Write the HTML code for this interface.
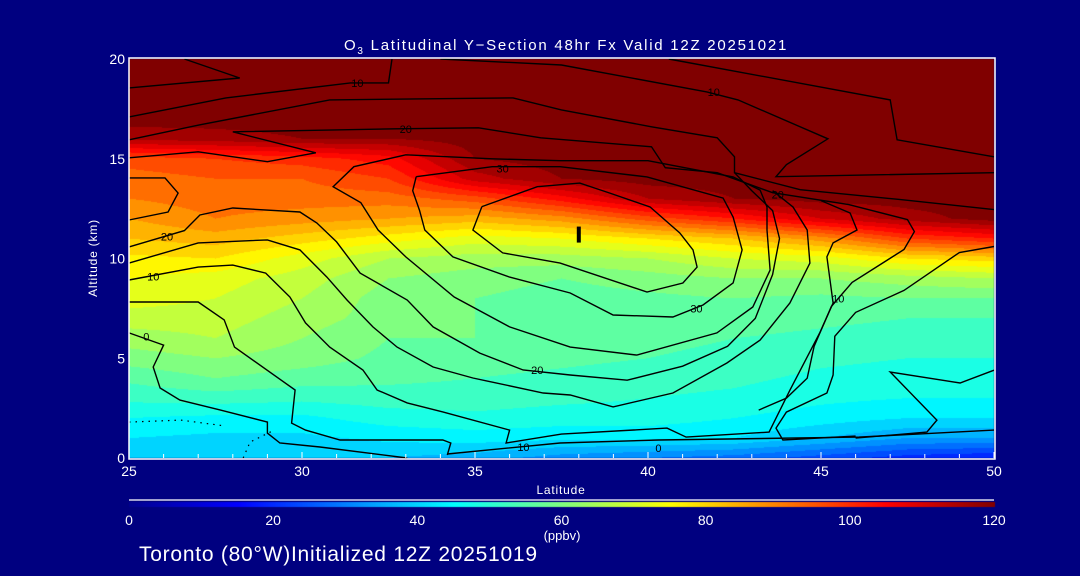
<!DOCTYPE html>
<html><head><meta charset="utf-8"><style>
html,body{margin:0;padding:0;background:#000080;width:1080px;height:576px;overflow:hidden;font-family:"Liberation Sans","DejaVu Sans",sans-serif;}
#wrap{position:relative;width:1080px;height:576px;}
canvas{position:absolute;left:0;top:0;}
svg{position:absolute;left:0;top:0;}
</style></head><body>
<div id="wrap">
<canvas id="field" width="1080" height="576"></canvas>
<svg id="svg" width="1080" height="576" xmlns="http://www.w3.org/2000/svg"></svg>
</div>
<script>
// ---- data ----
const lats = [25,27.5,30,32.5,35,37.5,40,42.5,45,47.5,50];
const alts = [0,1,2,3,4,5,6,7,8,9,10,11,12,13,14,15,16,17,18,19,20];
const col25 = [40,42,46,51,55,60,64,68,72,74,77,82,86,90,92,96,115,120,120,120,120];
const col275 = [39,41,45,52,58,62,66,68,70,72,78,84,90,92,94,98,116,120,120,120,120];
const col30 = [38,41,45,51,56,60,62,64,66,68,72,80,88,92,94,100,118,120,120,120,120];
const col325 = [38,43,48,52,55,57,58,60,60,62,66,76,86,92,98,104,118,120,120,120,120];
const col35 = [36,44,49,52,54,56,58,58,58,60,64,72,84,96,112,118,120,120,120,120,120];
const col375 = [32,43,48,51,53,55,56,56,56,58,64,74,88,104,118,120,120,120,120,120,120];
const col40 = [30,43,48,50,52,54,55,56,57,60,66,78,96,114,120,120,120,120,120,120,120];
const col425 = [28,42,46,49,51,53,54,56,58,62,70,82,102,118,120,120,120,120,120,120,120];
const col45 = [24,38,44,47,49,51,53,55,57,62,72,88,110,120,120,120,120,120,120,120,120];
const col475 = [20,34,42,46,48,50,52,54,58,64,78,98,116,120,120,120,120,120,120,120,120];
const col50 = [18,34,42,46,48,50,52,54,58,66,80,102,120,120,120,120,120,120,120,120,120];
const columns = [col25,col275,col30,col325,col35,col375,col40,col425,col45,col475,col50];
const xTicks = [25,30,35,40,45,50];
const yTicks = [0,5,10,15,20];
const cbTicks = [0,20,40,60,80,100,120];
// contours: [lat, alt] pairs
const contours = [
 [[26.6,20],[28.2,19.05],[25,18.55]],
 [[25,17.1],[27.8,18.05],[31.4,18.8],[32.5,18.8],[32.6,20]],
 [[34.0,20],[37.5,19.7],[41.7,18.35],[42.6,17.95],[45.2,16.0],[44.0,14.7],[43.7,14.1],[50,14.3]],
 [[40.6,20],[47.0,17.95],[47.2,15.95],[50,15.1]],
 [[25,15.95],[27.05,16.7],[30.8,17.95],[36.1,18.05],[37.5,17.45],[40.1,16.6],[42.0,16.05],[42.5,15.1],[42.5,14.3],[44.4,13.45],[47.3,12.95],[50,12.45]],
 [[25,15.05],[27.0,15.35],[29.0,14.85],[30.4,15.3],[28.0,16.35],[32.7,16.5],[35.1,16.55],[36.9,16.05],[40.1,15.6],[40.5,14.55],[42.0,14.3],[43.6,13.3],[45.8,12.7],[47.5,11.95],[47.7,11.35],[47.4,10.45],[45.9,8.8],[45.3,7.6],[44.8,5.6],[44.6,4.0],[44.0,3.0],[43.2,2.4]],
 [[50,10.6],[49.0,10.3],[47.4,8.4],[46.0,7.3],[45.4,6.1],[45.35,4.16],[45.17,3.26],[44.0,2.3],[43.7,1.5],[43.9,0.9],[46,1.1]],
 [[25,14.04],[26.04,14.04],[26.42,13.28],[26.13,12.33],[25,11.93]],
 [[35.2,12.6],[34.94,11.43],[35.8,10.28],[37.46,9.77],[39.97,8.32],[41.01,8.77],[41.42,9.57],[41.3,10.43],[40.92,11.28],[40.06,12.58],[38.9,13.28],[38.03,13.78],[36.8,13.6],[35.2,12.6]],
 [[33.3,14.1],[33.2,13.4],[33.4,12.4],[33.55,11.43],[34.36,10.08],[36.0,9.07],[37.75,8.27],[38.99,7.17],[40.72,7.07],[41.59,7.67],[42.46,8.77],[42.72,10.43],[42.46,12.08],[42.17,13.03],[39.97,14.09],[37.46,14.6],[35.5,14.6],[33.3,14.1]],
 [[37.46,14.9],[35.5,15.0],[33.0,15.2],[31.5,14.6],[30.9,13.6],[31.7,12.8],[32.2,11.43],[33.0,10.08],[34.4,8.07],[36.0,6.57],[37.75,5.56],[39.68,5.16],[41.99,6.27],[43.03,7.57],[43.53,9.42],[43.44,11.43],[43.44,12.58],[43.24,13.43],[42.46,14.09],[40.0,14.9],[37.46,14.9]],
 [[25,10.58],[26.6,11.4],[27.05,12.18],[28.0,12.53],[29.94,12.33],[30.43,11.78],[31.0,10.83],[31.68,9.27],[33.04,7.92],[33.79,6.57],[35.14,5.26],[36.39,4.41],[37.75,4.16],[39.4,3.9],[41.0,4.6],[42.3,5.6],[43.1,7.0],[43.6,9.2],[43.8,11.0],[43.6,12.4],[43.0,13.4],[42.5,14.3]],
 [[25,9.77],[27.0,10.78],[29.0,10.93],[29.94,10.43],[30.72,9.07],[31.3,7.92],[32.05,6.57],[32.75,5.56],[33.79,4.56],[34.94,4.01],[36.97,3.26],[37.75,3.16],[38.99,2.56],[40.72,3.26],[42.28,4.76],[43.24,5.91],[44.1,7.77],[44.68,9.77],[44.6,11.43],[44.19,12.58],[43.6,13.4]],
 [[25,8.92],[27.0,9.57],[28.0,9.67],[28.95,9.27],[29.65,8.07],[30.1,6.77],[30.8,5.56],[31.76,4.41],[32.17,3.41],[33.04,2.76],[34.07,2.31],[36.0,1.4],[35.9,0.75],[37.5,1.2],[40.55,1.5],[41.1,1.05],[43.5,1.3],[44.1,3.4],[44.97,6.3],[45.35,7.77],[45.17,10.08],[45.35,10.78],[46.04,11.43],[45.84,12.28],[45.0,12.9]],
 [[25,7.82],[27.0,7.82],[27.75,6.92],[28.05,5.56],[29.8,3.41],[29.7,1.75],[30.1,1.4],[31.1,0.9],[34.07,0.9],[34.3,0.75],[34.2,0.15]],
 [[34.2,0.2],[37.46,0.75],[40.3,0.9],[46.1,1.05],[50,1.4]],
 [[25,6.27],[26.0,5.66],[25.7,4.56],[25.9,3.51],[26.47,2.9],[27.63,2.41],[29.0,1.8],[29.0,1.25],[29.36,0.75],[30.52,0.55],[33.04,0]],
 [[50,4.4],[49.02,3.76],[47.0,4.31],[48.35,1.9],[48.06,1.3],[46,1.0]]
];
const dotted = [[[25,1.8],[26.5,1.9],[27.8,1.6]],[[28.3,0],[28.5,0.8],[29.2,1.4]]];
const labelText = ["10","10","20","30","20","20","10","0","30","10","20","10","0"];
const labelLat = [31.6,41.9,33.0,35.8,43.75,26.1,25.7,25.5,41.4,45.5,36.8,36.4,40.3];
const labelAlt = [18.8,18.35,16.5,14.5,13.2,11.1,9.1,6.1,7.5,8.0,4.4,0.55,0.5];

// ---- axes ----
const X0=129,X1=994,Y0=458,Y1=59;
const xs = v => X0+(v-25)/(50-25)*(X1-X0);
const ys = v => Y0-(v-0)/20*(Y0-Y1);
const cbx = v => X0+v/120*(X1-X0);

function jet(v){
  let t=Math.max(0,Math.min(1,v/120));
  const stops=[[0,0,0,143],[1/8,0,0,255],[3/8,0,255,255],[5/8,255,255,0],[7/8,255,0,0],[1,128,0,0]];
  for(let i=1;i<stops.length;i++){
    if(t<=stops[i][0]){const a=stops[i-1],b=stops[i];const f=(t-a[0])/(b[0]-a[0]);
      return [Math.round(a[1]+(b[1]-a[1])*f),Math.round(a[2]+(b[2]-a[2])*f),Math.round(a[3]+(b[3]-a[3])*f)];}
  }
  return [128,0,0];
}
function field(lat,alt){
  let fi=(lat-25)/2.5; let i=Math.min(lats.length-2,Math.max(0,Math.floor(fi))); let fx=fi-i;
  let j=Math.min(alts.length-2,Math.max(0,Math.floor(alt))); let fy=alt-j;
  const a=columns[i][j],b=columns[i+1][j],c=columns[i][j+1],d=columns[i+1][j+1];
  return a*(1-fx)*(1-fy)+b*fx*(1-fy)+c*(1-fx)*fy+d*fx*fy;
}
const cv=document.getElementById('field');const ctx=cv.getContext('2d');
const img=ctx.createImageData(X1-X0,Y0-Y1);
for(let py=0;py<Y0-Y1;py++){
  const alt=20-(py+0.5)/(Y0-Y1)*20;
  for(let px=0;px<X1-X0;px++){
    const lat=25+(px+0.5)/(X1-X0)*25;
    let v=field(lat,alt); v=Math.round(v/4)*4;
    const c=jet(v);const k=(py*(X1-X0)+px)*4;
    img.data[k]=c[0];img.data[k+1]=c[1];img.data[k+2]=c[2];img.data[k+3]=255;
  }
}
ctx.putImageData(img,X0,Y1);
// colorbar
for(let px=X0;px<=X1;px++){const c=jet((px-X0)/(X1-X0)*120);ctx.fillStyle=`rgb(${c[0]},${c[1]},${c[2]})`;ctx.fillRect(px,502,1,5);}

const svg=document.getElementById('svg');const NS='http://www.w3.org/2000/svg';
function mk(tag,attrs,parent){const e=document.createElementNS(NS,tag);for(const k in attrs)e.setAttribute(k,attrs[k]);(parent||svg).appendChild(e);return e;}
function txt(s,x,y,size,anchor,fill){const t=mk('text',{x:x,y:y,'font-size':size,'text-anchor':anchor||'start',fill:fill||'#fff','font-family':'Liberation Sans, DejaVu Sans, sans-serif'});t.textContent=s;return t;}

contours.forEach((c,i)=>{
  const p=mk('polyline',{points:c.map(q=>xs(q[0]).toFixed(1)+','+ys(q[1]).toFixed(1)).join(' '),fill:'none',stroke:'#000','stroke-width':1.4});
  
  
});
dotted.forEach((c,i)=>{
  const p=mk('polyline',{points:c.map(q=>xs(q[0])+','+ys(q[1])).join(' '),fill:'none',stroke:'#000','stroke-width':1.2,'stroke-dasharray':'1.5 5'});
  
  
});
labelText.forEach((s,i)=>{
  const t=txt(s,xs(labelLat[i]),ys(labelAlt[i])+4,11,'middle','#000');
  
  
});
const mark=mk('rect',{x:xs(38)-2,y:ys(11.6),width:4,height:16,fill:'#000'});



const frame=mk('rect',{x:X0,y:Y1-1,width:X1-X0+1,height:Y0-Y1+2,fill:'none',stroke:'#fff','stroke-width':1.5});


for(let l=25;l<=50;l++){
  const tk=mk('line',{x1:xs(l),x2:xs(l),y1:Y0,y2:Y0-(l%5==0?6:4),stroke:'#fff','stroke-width':1});
  
  
}
xTicks.forEach(v=>{const t=txt(String(v),xs(v),476,14,'middle');
  
  });
yTicks.forEach(v=>{const t=txt(String(v),125,ys(v)+5,14,'end');
  
  });
const xt=txt('Latitude',561,494,12,'middle');xt.setAttribute('letter-spacing','0.8');
const yt=txt('Altitude (km)',0,0,12,'middle');yt.setAttribute('transform','translate(97,258) rotate(-90)');yt.setAttribute('letter-spacing','0.8');

const ti=mk('text',{x:566,y:50,'font-size':15,'text-anchor':'middle',fill:'#fff','letter-spacing':'1.75','font-family':'Liberation Sans, sans-serif'});
ti.innerHTML='O<tspan font-size="10" dy="4">3</tspan><tspan dy="-4"> Latitudinal Y\u2212Section 48hr  Fx Valid 12Z 20251021</tspan>';
ti.setAttribute('xml:space','preserve');

const cbl=mk('line',{x1:X0,x2:X1,y1:500,y2:500,stroke:'#fff','stroke-width':1.2});

cbTicks.forEach(v=>{const t=txt(String(v),cbx(v),525,14,'middle');
  
  });
const un=txt('(ppbv)',562,540,13,'middle');
const ft=txt('Toronto (80\u00b0W)Initialized 12Z 20251019',139,561,21,'start');ft.setAttribute('letter-spacing','0.75');
</script>
</body></html>
